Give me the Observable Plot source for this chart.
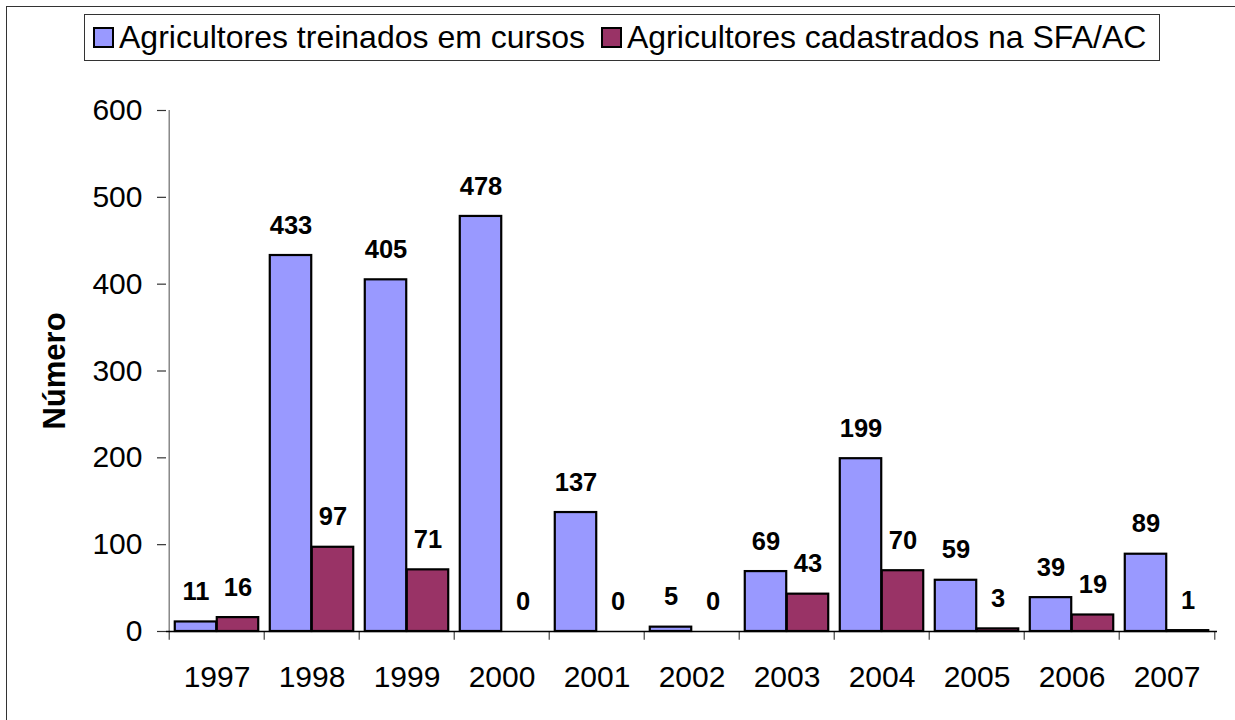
<!DOCTYPE html>
<html><head><meta charset="utf-8">
<script src="https://cdn.jsdelivr.net/npm/d3@7"></script>
<script src="https://cdn.jsdelivr.net/npm/@observablehq/plot@0.6"></script>
<style>
body{margin:0;background:#fff;font-family:"Liberation Sans",Arial,sans-serif;}
#wrap{position:relative;width:1235px;height:720px;overflow:hidden;}
#frame{position:absolute;left:6px;top:6px;width:1300px;height:800px;border-left:1.5px solid #333;border-top:1.5px solid #333;pointer-events:none}
#head{position:relative;height:80px;}
#legend{position:absolute;left:84px;top:14px;width:1076px;height:47px;box-sizing:border-box;border:1.5px solid #333;display:flex;align-items:center;padding-left:8px;font-size:32px;color:#000;white-space:nowrap;}
.sw{width:21px;height:21px;box-sizing:border-box;border:2.5px solid #000;margin-right:5px;flex:none}
.item{display:flex;align-items:center;margin-right:16px}
#chart svg{display:block}
</style></head>
<body><div id="wrap"><div id="head"><div id="legend"></div></div><div id="chart"></div><div id="frame"></div></div>
<script>
const years = ["1997","1998","1999","2000","2001","2002","2003","2004","2005","2006","2007"];
const treinados = [11,433,405,478,137,5,69,199,59,39,89];
const cadastrados = [16,97,71,0,0,0,43,70,3,19,1];
const seriesNames = ["Agricultores treinados em cursos","Agricultores cadastrados na SFA/AC"];
const seriesColors = ["#9999FF","#993366"];
const yTicks = [0,100,200,300,400,500,600];
const yTitle = "Número";

// legend
const legend = document.getElementById("legend");
seriesNames.forEach((n,i)=>{
  const it = document.createElement("div"); it.className="item";
  const sw = document.createElement("div"); sw.className="sw"; sw.style.background=seriesColors[i];
  const tx = document.createElement("span"); tx.textContent=n;
  it.appendChild(sw); it.appendChild(tx); legend.appendChild(it);
});

const rowsT = years.map((y,i)=>({year:y, value:treinados[i]}));
const rowsC = years.map((y,i)=>({year:y, value:cadastrados[i]}));

const W=1235, H=640, mL=166, mR=18, mT=30, mB=89;
const step = (W-mL-mR)/years.length;
const barW = 42;
const gap = (step-2*barW)/2;

const chart = Plot.plot({
  width: W, height: H,
  marginLeft: mL, marginRight: mR, marginTop: mT, marginBottom: mB,
  style: {fontFamily: '"Liberation Sans", Arial, sans-serif', background: "transparent", overflow: "visible"},
  x: {type: "band", domain: years, padding: 0},
  y: {domain: [0, 600]},
  marks: [
    Plot.barY(rowsT.filter(d=>d.value>0), {x:"year", y:"value", fill: seriesColors[0], stroke:"#000", strokeWidth:2.2, insetLeft: gap, insetRight: step-gap-barW}),
    Plot.barY(rowsC.filter(d=>d.value>0), {x:"year", y:"value", fill: seriesColors[1], stroke:"#000", strokeWidth:2.2, insetLeft: gap+barW, insetRight: gap}),
    Plot.ruleX([years[0]], {x: d=>d, dx: -step/2, y1: 0, y2: 600, stroke: "#888", strokeWidth: 1.5}),
    Plot.ruleX(years, {x: d=>d, dx: -step/2, y1: 0, y2: -10, stroke: "#444", strokeWidth: 1.2}),
    Plot.ruleX([years[years.length-1]], {x: d=>d, dx: step/2, y1: 0, y2: -10, stroke: "#444", strokeWidth: 1.2}),
    Plot.ruleY([0], {stroke: "#000", strokeWidth: 1.5}),
    Plot.axisY({ticks: yTicks, tickSize: 9, tickPadding: 15, fontSize: 30, label: null, stroke: "#333", strokeWidth: 1.2}),
    Plot.axisX({tickSize: 0, tickPadding: 34, fontSize: 30, label: null}),
    Plot.text(rowsT, {x:"year", y:"value", text: d=>String(d.value), dx: -(step/2-gap-barW/2), dy: -30, fontSize: 25.5, fontWeight: "bold", lineAnchor: "middle", fill: "#000"}),
    Plot.text(rowsC, {x:"year", y:"value", text: d=>String(d.value), dx: (step/2-gap-barW/2), dy: -30, fontSize: 25.5, fontWeight: "bold", lineAnchor: "middle", fill: "#000"}),
    Plot.text([yTitle], {text: d=>d, frameAnchor: "left", textAnchor: "middle", lineAnchor: "middle", rotate: -90, dx: -111, fontSize: 31, fontWeight: "bold", fill: "#000"})
  ]
});
document.getElementById("chart").appendChild(chart);
</script>
</body></html>
